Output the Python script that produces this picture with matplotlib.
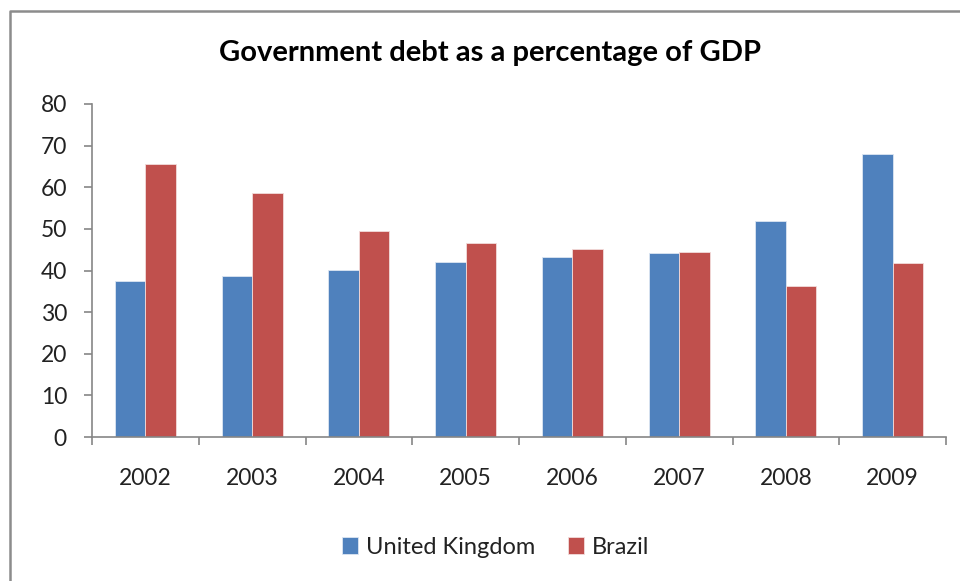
import numpy as np
import matplotlib
matplotlib.use("Agg")
import matplotlib.pyplot as plt
from matplotlib.lines import Line2D

# --- DATA ---
years = ["2002", "2003", "2004", "2005", "2006", "2007", "2008", "2009"]
uk_debt = [37.4, 38.6, 40.1, 42.0, 43.2, 44.2, 51.9, 68.0]
brazil_debt = [65.7, 58.6, 49.4, 46.6, 45.1, 44.5, 36.3, 41.7]

BLUE = "#4F81BD"
RED = "#C0504D"
AXIS_GREY = "#868686"

plt.rcParams["font.family"] = ["Lato", "DejaVu Sans"]

fig = plt.figure(figsize=(9.6, 5.81), dpi=100)
ax = fig.add_axes([92 / 960, 1 - 437 / 581, (946 - 92) / 960, (437 - 104) / 581])

x = np.arange(len(years))
w = 0.286
ax.bar(x - w / 2, uk_debt, width=w, color=BLUE, edgecolor="#dce6f2", linewidth=0.6, label="United Kingdom")
ax.bar(x + w / 2, brazil_debt, width=w, color=RED, edgecolor="#f2dcdb", linewidth=0.6, label="Brazil")

ax.set_xlim(-0.5, len(years) - 0.5)
ax.set_ylim(0, 80)
ax.set_yticks(range(0, 81, 10))

# labels at centres, ticks at category boundaries
ax.set_xticks(x)
ax.set_xticklabels(years)
ax.set_xticks(np.arange(-0.5, len(years)), minor=True)
ax.tick_params(axis="x", which="major", length=0, pad=22, labelsize=16.5, labelcolor="#222222")
ax.tick_params(axis="x", which="minor", length=6, width=1.2, color=AXIS_GREY)
ax.tick_params(axis="y", length=6, width=1.2, color=AXIS_GREY, pad=12, labelsize=16.5, labelcolor="#222222")

for s in ["top", "right"]:
    ax.spines[s].set_visible(False)
for s in ["left", "bottom"]:
    ax.spines[s].set_color(AXIS_GREY)
    ax.spines[s].set_linewidth(1.2)

fig.text(0.510, 1 - 53 / 581, "Government debt as a percentage of GDP",
         ha="center", va="center", fontsize=21, fontweight="bold", color="black")

fig.legend(loc="center", bbox_to_anchor=(0.516, 1 - 547 / 581), ncol=2, frameon=False,
           fontsize=17, handlelength=0.7, handleheight=0.7, handletextpad=0.3,
           columnspacing=1.4, labelcolor="#222222")

# outer chart frame (only top and left edges visible in the crop)
fx = 9.5 / 960
fy = 1 - 11 / 581
fig.add_artist(Line2D([fx, fx, 1.01], [-0.01, fy, fy], transform=fig.transFigure,
                      color="#8c8c8c", linewidth=1.8))

fig.savefig("out.png", dpi=100, facecolor="white")
